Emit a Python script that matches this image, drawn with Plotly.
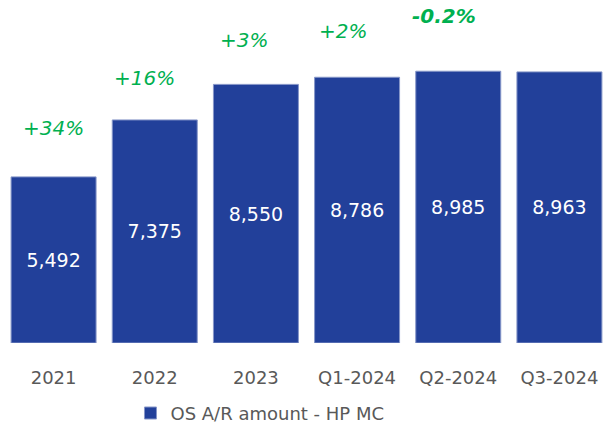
import plotly.graph_objects as go

# data
periods = ["2021", "2022", "2023", "Q1-2024", "Q2-2024", "Q3-2024"]
ar_amount = [5492, 7375, 8550, 8786, 8985, 8963]
growth_labels = ["+34%", "+16%", "+3%", "+2%", "-0.2%"]  # growth of bar i+1 vs bar i
growth_label_y = [7100, 8760, 10020, 10310, 10810]      # label heights (axis units)

BAR_BLUE = "#22409A"
GREEN = "#00B050"
GREY = "#595959"
FONT = "DejaVu Sans"

x_idx = list(range(len(periods)))

fig = go.Figure()
fig.add_trace(go.Bar(
    x=x_idx,
    y=ar_amount,
    name="OS A/R amount - HP MC",
    marker=dict(color=BAR_BLUE, line=dict(color="#8696C8", width=1)),
    text=[f"{v:,}" for v in ar_amount],
    textposition="inside",
    insidetextanchor="middle",
    textfont=dict(color="white", size=19, family=FONT),
    hoverinfo="skip",
))

# growth annotations, drifting slightly left of the bars as they go
for i, lbl in enumerate(growth_labels):
    bold = lbl.startswith("-")
    xpos = i if i == 0 else i - 0.1 - 0.015 * (i - 1)
    fig.add_annotation(
        x=xpos, y=growth_label_y[i],
        xref="x", yref="y",
        text=f"<b><i>{lbl}</i></b>" if bold else f"<i>{lbl}</i>",
        showarrow=False,
        font=dict(color=GREEN, size=20, family=FONT),
    )

fig.update_layout(
    width=610, height=432,
    margin=dict(l=3, r=0, t=0, b=89),
    paper_bgcolor="white",
    plot_bgcolor="white",
    bargap=0.16,
    showlegend=True,
    legend=dict(
        orientation="h",
        x=0.21, xanchor="left",
        y=-0.205, yanchor="middle",
        font=dict(color=GREY, size=18, family=FONT),
        itemwidth=30,
    ),
    font=dict(family=FONT),
)
fig.update_xaxes(
    tickmode="array", tickvals=x_idx, ticktext=periods,
    range=[-0.5, 5.5],
    showgrid=False, zeroline=False, showline=False,
    ticks="outside", ticklen=18, tickcolor="rgba(0,0,0,0)",
    tickfont=dict(color=GREY, size=18, family=FONT),
)
fig.update_yaxes(
    range=[0, 11340],
    visible=False,
)

fig.write_html("out.html", config={"displayModeBar": False},
               post_script="document.body.style.margin='0';")
